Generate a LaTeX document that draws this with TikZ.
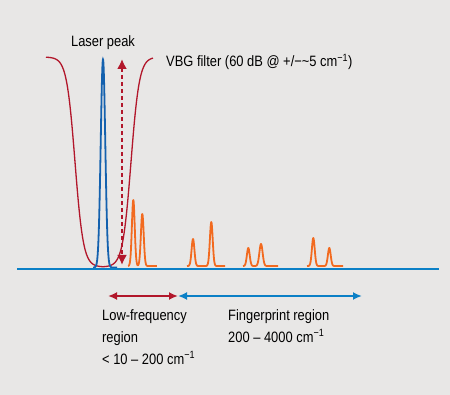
\documentclass[tikz,border=0pt]{standalone}
\usepackage{fontspec}
\setmainfont[FakeStretch=0.86]{Liberation Sans}
\usetikzlibrary{arrows.meta}
\definecolor{bggray}{HTML}{E8E7E6}
\definecolor{vbgred}{HTML}{B2172B}
\definecolor{laserblue}{HTML}{1461AE}
\definecolor{baseblue}{HTML}{0B80C6}
\definecolor{ramanorange}{HTML}{F26A1F}
\begin{document}
\begin{tikzpicture}[x=1pt,y=-1pt,font=\fontsize{15}{22}\selectfont,
  spec/.style={line width=1.8pt,ramanorange,line join=round},
  filt/.style={line width=1.3pt,vbgred},
  lbl/.style={inner sep=0pt,align=left,anchor=north west},
  region/.style={line width=2pt,{Latex[length=9pt,width=8pt]}-{Latex[length=9pt,width=8pt]}}]
  \fill[bggray] (0,0) rectangle (450,395);
  \useasboundingbox (0,0) rectangle (450,395);
  % VBG notch filter
  \draw[filt] plot[domain=46:153,samples=220] (\x,{267-210/(1+exp(-(abs(\x-103)-28)/4.2))});
  % laser line
  \draw[line width=1.8pt,laserblue] plot[domain=93:117,samples=150] (\x,{267.5-208*exp(-((\x-103)/3.2)^2)});
  % Raman bands
  \draw[spec] plot[domain=128:157,samples=120] (\x,{266-66*exp(-((\x-133.3)/2)^2)-52*exp(-((\x-142.3)/2)^2)});
  \draw[spec] plot[domain=187:225,samples=120] (\x,{266-27*exp(-((\x-193)/2)^2)-44*exp(-((\x-211.3)/2)^2)});
  \draw[spec] plot[domain=243:278,samples=120] (\x,{266-18*exp(-((\x-248.3)/2)^2)-22*exp(-((\x-261)/2.3)^2)});
  \draw[spec] plot[domain=307:343,samples=120] (\x,{266-28*exp(-((\x-313.3)/2)^2)-18*exp(-((\x-329.3)/2)^2)});
  % baseline
  \coordinate (base0) at (17,269);
  \coordinate (base1) at (439,269);
  \draw[line width=2pt,baseblue] (base0) -- (base1);
  % 60 dB marker
  \coordinate (dtop) at (122,59);
  \coordinate (dbot) at (122,265);
  \draw[vbgred,line width=2pt,dash pattern=on 4.5pt off 2.5pt,{Latex[length=10pt,width=10pt]}-{Latex[length=10pt,width=10pt]}] (dtop) -- (dbot);
  \node (laser) at (103,43) {Laser peak};
  \node[anchor=west,inner sep=0pt] (vbg) at (166,62) {VBG filter (60 dB @ +/−\textasciitilde 5 cm\textsuperscript{−1})};
  % regions
  \coordinate (lfw) at (108,296);
  \coordinate (split) at (178,296);
  \coordinate (fpe) at (362,296);
  \draw[region,vbgred] (lfw) -- (split);
  \draw[region,baseblue] (split) -- (fpe);
  \node[lbl] (lowf) at (102,309) {Low-frequency\\region\\\textless{} 10 – 200 cm\textsuperscript{−1}};
  \node[lbl] (finger) at (228,309) {Fingerprint region\\200 – 4000 cm\textsuperscript{−1}};
\end{tikzpicture}
\end{document}
